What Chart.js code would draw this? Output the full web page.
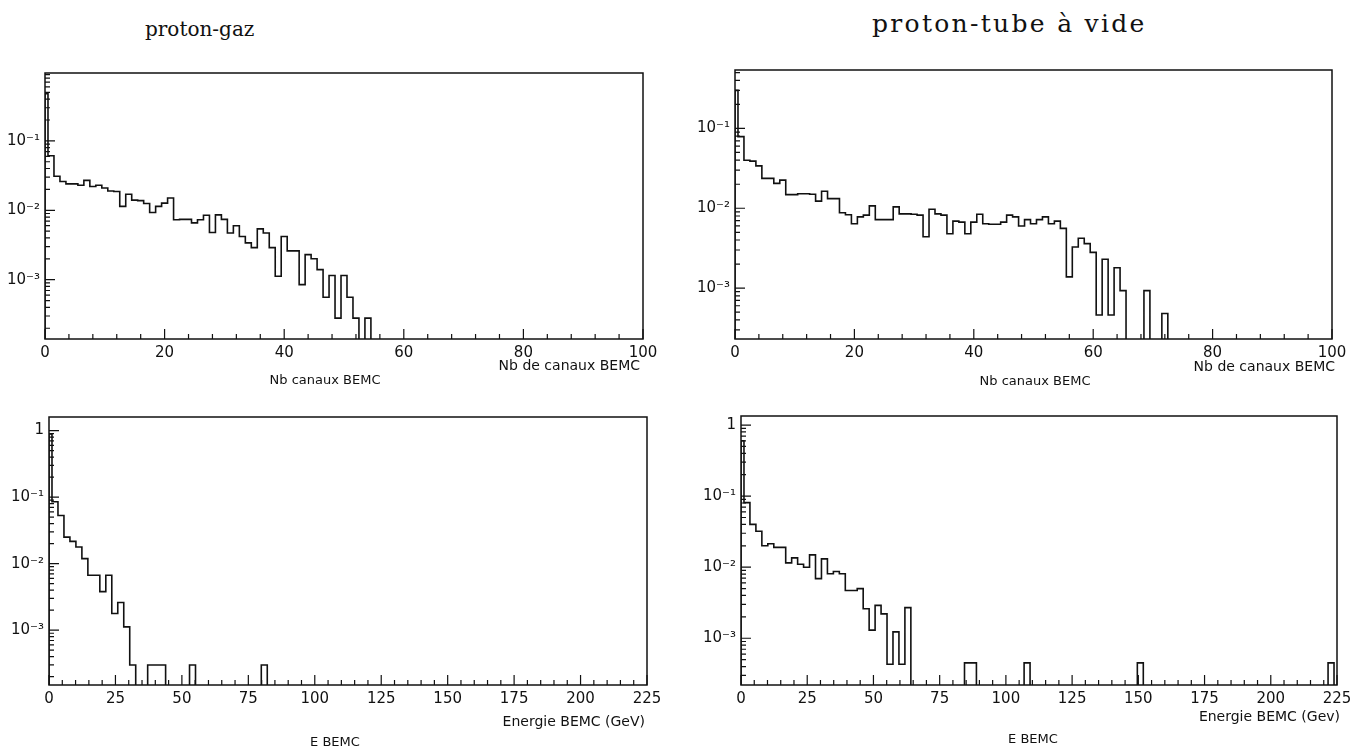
<!DOCTYPE html>
<html>
<head>
<meta charset="utf-8">
<script src="https://cdn.jsdelivr.net/npm/chart.js@4.4.1/dist/chart.umd.min.js"></script>
<style>
  body{margin:0;background:#fff;}
  #page{position:relative;width:1370px;height:751px;overflow:hidden;background:#fff;font-family:'DejaVu Sans',sans-serif;color:#111;}
  canvas{position:absolute;}
  .title{position:absolute;font-family:'DejaVu Serif',serif;font-size:20px;white-space:nowrap;}
  .lab{position:absolute;font-size:13px;white-space:nowrap;}
  .big{font-size:14px;}
  .mid{transform:translateX(-50%);}
</style>
</head>
<body>
<div id="page">
  <div class="title" style="left:145px;top:17px;">proton-gaz</div>
  <div class="title" style="left:872px;top:9px;font-size:25px;letter-spacing:2.3px;">proton-tube à vide</div>

  <canvas id="tl" width="680" height="330" style="left:0;top:60px;"></canvas>
  <canvas id="tr" width="680" height="335" style="left:690px;top:55px;"></canvas>
  <canvas id="bl" width="680" height="330" style="left:0;top:405px;"></canvas>
  <canvas id="br" width="680" height="330" style="left:690px;top:405px;"></canvas>

  <div class="lab big" style="right:730px;top:357px;">Nb de canaux BEMC</div>
  <div class="lab mid" style="left:325px;top:372px;">Nb canaux BEMC</div>
  <div class="lab big" style="right:35px;top:358px;">Nb de canaux BEMC</div>
  <div class="lab mid" style="left:1035px;top:373px;">Nb canaux BEMC</div>
  <div class="lab big" style="right:725px;top:713px;">Energie BEMC (GeV)</div>
  <div class="lab mid" style="left:335px;top:734px;">E BEMC</div>
  <div class="lab big" style="right:30px;top:708px;">Energie BEMC (Gev)</div>
  <div class="lab mid" style="left:1033px;top:731px;">E BEMC</div>
</div>
<script>
// bin contents, normalised, one value per bin (bins centred on k*width)
const gazCanaux = [0.48, 0.061, 0.031, 0.026, 0.024, 0.024, 0.023, 0.027, 0.022, 0.023,
  0.021, 0.019, 0.0187, 0.0114, 0.017, 0.014, 0.0138, 0.0125, 0.0093, 0.0114,
  0.0127, 0.015, 0.0073, 0.0074, 0.0074, 0.0066, 0.0073, 0.0085, 0.0048, 0.0086,
  0.0074, 0.0047, 0.006, 0.0042, 0.0034, 0.0029, 0.0054, 0.0047, 0.0029, 0.00112,
  0.0042, 0.0026, 0.0026, 0.00085, 0.0023, 0.002, 0.0014, 0.00056, 0.00115, 0.00028,
  0.00115, 0.00056, 0.00028, 0, 0.00028];

const videCanaux = [0.3, 0.079, 0.04, 0.039, 0.034, 0.0237, 0.0237, 0.0205, 0.0225, 0.0148,
  0.0148, 0.0152, 0.0152, 0.015, 0.0123, 0.0163, 0.0132, 0.0132, 0.0088, 0.0083,
  0.0064, 0.0078, 0.0082, 0.0107, 0.0072, 0.0072, 0.0072, 0.0104, 0.0085, 0.0085,
  0.0084, 0.0082, 0.0044, 0.0097, 0.0085, 0.0082, 0.0048, 0.0069, 0.0067, 0.0048,
  0.0067, 0.0084, 0.0064, 0.0063, 0.0063, 0.0067, 0.0082, 0.0078, 0.006, 0.0072,
  0.0064, 0.0072, 0.0078, 0.0064, 0.0069, 0.0056, 0.00138, 0.00327, 0.0042, 0.0036,
  0.0028, 0.00046, 0.0023, 0.00046, 0.0018, 0.00093, 0, 0, 0, 0.00093,
  0, 0, 0.00048];

const gazEnergie = [0.89, 0.085, 0.053, 0.025, 0.0216, 0.0178, 0.0119, 0.0067, 0.0067, 0.0038,
  0.0067, 0.00178, 0.0026, 0.00112, 0.0003, 0, 0, 0.0003, 0.0003, 0.0003,
  0, 0, 0, 0, 0.0003, 0, 0, 0, 0, 0,
  0, 0, 0, 0, 0, 0, 0.0003];

const videEnergie = [0.6, 0.081, 0.04, 0.032, 0.02, 0.0214, 0.019, 0.019, 0.0115, 0.0135,
  0.011, 0.01, 0.0149, 0.0069, 0.0131, 0.0081, 0.0087, 0.0081, 0.0047, 0.0047,
  0.005, 0.0026, 0.0013, 0.0029, 0.0022, 0.00043, 0.00123, 0.00043, 0.0027, 0,
  0, 0, 0, 0, 0, 0, 0, 0, 0.00045, 0.00045,
  0, 0, 0, 0, 0, 0, 0, 0, 0.00045, 0,
  0, 0, 0, 0, 0, 0, 0, 0, 0, 0,
  0, 0, 0, 0, 0, 0, 0, 0.00045, 0, 0,
  0, 0, 0, 0, 0, 0, 0, 0, 0, 0,
  0, 0, 0, 0, 0, 0, 0, 0, 0, 0,
  0, 0, 0, 0, 0, 0, 0, 0, 0, 0.00045];

const canauxBinWidth = 1;      // Nb canaux
const energieBinWidth = 2.25;  // GeV
const decades3 = [1e-3, 1e-2, 1e-1];
const decades4 = [1e-3, 1e-2, 1e-1, 1];

const FLOOR = 1e-6; // empty bins drawn below the axis, clipped

function histPoints(values, width){
  const pts = [{x: 0, y: FLOOR}];
  values.forEach((v, k) => {
    pts.push({x: Math.max(0, (k - 0.5) * width), y: v > 0 ? v : FLOOR});
  });
  pts.push({x: (values.length - 0.5) * width, y: FLOOR});
  return pts;
}

const SUP = {'-': '⁻', '0': '⁰', '1': '¹', '2': '²', '3': '³', '4': '⁴'};
function fmtLog(v){
  const e = Math.round(Math.log10(v));
  if(e === 0) return '1';
  return '10' + String(e).split('').map(c => SUP[c]).join('');
}

// frame box and inward tick marks like the old HBOOK plots
const frameTicks = {
  id: 'frameTicks',
  afterDraw(chart, args, opts){
    const {ctx, chartArea: a} = chart;
    const x = chart.scales.x, y = chart.scales.y;
    ctx.save();
    ctx.strokeStyle = '#111';
    ctx.lineWidth = 1.5;
    ctx.strokeRect(a.left, a.top, a.right - a.left, a.bottom - a.top);
    ctx.lineWidth = 1.2;
    ctx.beginPath();
    const n = Math.round((x.max - x.min) / opts.xMinor);
    for(let i = 0; i <= n; i++){
      const v = x.min + i * opts.xMinor;
      const px = x.getPixelForValue(v);
      const r = v / opts.xMajor;
      const len = Math.abs(r - Math.round(r)) < 1e-6 ? 10 : 5;
      ctx.moveTo(px, a.bottom);
      ctx.lineTo(px, a.bottom - len);
    }
    for(let e = Math.floor(Math.log10(y.min)); e <= Math.ceil(Math.log10(y.max)); e++){
      for(let m = 1; m < 10; m++){
        const v = m * Math.pow(10, e);
        if(v < y.min || v > y.max) continue;
        const py = y.getPixelForValue(v);
        ctx.moveTo(a.left, py);
        ctx.lineTo(a.left + (m === 1 ? 10 : 5), py);
      }
    }
    ctx.stroke();
    ctx.restore();
  }
};

function makePanel(id, cfg){
  return new Chart(document.getElementById(id), {
    type: 'line',
    data: {
      datasets: [{
        data: histPoints(cfg.values, cfg.binWidth),
        borderColor: '#111',
        borderWidth: 1.6,
        pointRadius: 0,
        stepped: true,
        fill: false
      }]
    },
    options: {
      responsive: false,
      animation: false,
      events: [],
      layout: {padding: cfg.pad},
      plugins: {
        legend: {display: false},
        tooltip: {enabled: false},
        frameTicks: {xMinor: cfg.xMinor, xMajor: cfg.xMajor}
      },
      scales: {
        x: {
          type: 'linear', min: 0, max: cfg.xMax,
          grid: {display: false, drawTicks: false},
          border: {display: false},
          ticks: {stepSize: cfg.xMajor, padding: 5, color: '#111', font: {family: 'DejaVu Sans', size: 15}, maxRotation: 0, autoSkip: false},
          afterFit: s => { s.height = cfg.xH; s.paddingLeft = 0; s.paddingRight = 0; }
        },
        y: {
          type: 'logarithmic', min: cfg.yMin, max: cfg.yMax,
          grid: {display: false, drawTicks: false},
          border: {display: false},
          afterBuildTicks: s => { s.ticks = cfg.yTicks.map(v => ({value: v})); },
          ticks: {callback: v => fmtLog(v), padding: 5, color: '#111', font: {family: 'DejaVu Sans', size: 15}, autoSkip: false},
          afterFit: s => { s.width = cfg.yW; s.paddingTop = 0; s.paddingBottom = 0; }
        }
      }
    },
    plugins: [frameTicks]
  });
}

makePanel('tl', {values: gazCanaux, binWidth: canauxBinWidth, xMax: 100, xMajor: 20, xMinor: 4,
  yMin: 1.4e-4, yMax: 0.95, yTicks: decades3, yW: 45, xH: 51, pad: {top: 13, right: 37}});
makePanel('tr', {values: videCanaux, binWidth: canauxBinWidth, xMax: 100, xMajor: 20, xMinor: 4,
  yMin: 2.3e-4, yMax: 0.54, yTicks: decades3, yW: 45, xH: 51, pad: {top: 15, right: 38}});
makePanel('bl', {values: gazEnergie, binWidth: energieBinWidth, xMax: 225, xMajor: 25, xMinor: 5,
  yMin: 1.5e-4, yMax: 1.6, yTicks: decades4, yW: 49, xH: 50, pad: {top: 12, right: 33}});
makePanel('br', {values: videEnergie, binWidth: energieBinWidth, xMax: 225, xMajor: 25, xMinor: 5,
  yMin: 2.2e-4, yMax: 1.34, yTicks: decades4, yW: 51, xH: 50, pad: {top: 11, right: 33}});
</script>
</body>
</html>
